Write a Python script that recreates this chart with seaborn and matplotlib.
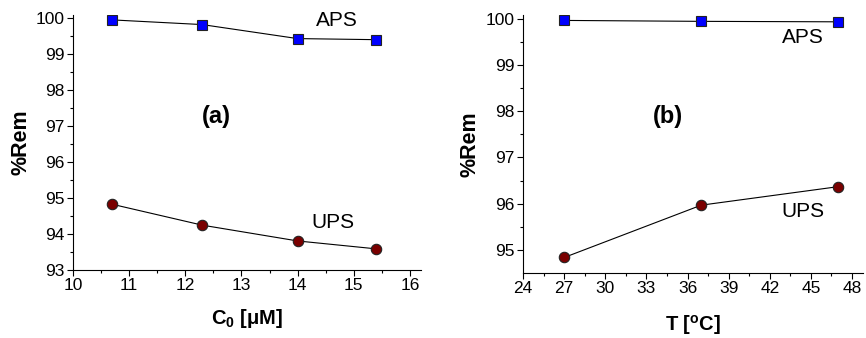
import matplotlib
matplotlib.use("Agg")
import matplotlib.pyplot as plt
import seaborn as sns
import pandas as pd
from matplotlib.ticker import MultipleLocator

# ---- data ----
conc = [10.7, 12.3, 14.0, 15.4]
aps_conc = [99.96, 99.83, 99.44, 99.41]
ups_conc = [94.83, 94.25, 93.81, 93.59]

temp = [27, 37, 47]
aps_temp = [99.96, 99.94, 99.93]
ups_temp = [94.84, 95.97, 96.37]

series_names = ["APS", "UPS"]

sns.set_style("ticks")
plt.rcParams["font.family"] = ["Liberation Sans", "DejaVu Sans"]
plt.rcParams["mathtext.fontset"] = "custom"
plt.rcParams["mathtext.rm"] = "Liberation Sans"
plt.rcParams["mathtext.bf"] = "Liberation Sans:bold"
for k in ["text.color", "axes.labelcolor", "xtick.color", "ytick.color", "axes.edgecolor"]:
    plt.rcParams[k] = "black"

fig = plt.figure(figsize=(8.66, 3.38), dpi=100)
ax1 = fig.add_axes([0.0843, 0.201, 0.402, 0.755])
ax2 = fig.add_axes([0.604, 0.193, 0.3925, 0.763])

df_a = pd.DataFrame({"x": conc * 2, "y": aps_conc + ups_conc,
                     "s": [series_names[0]] * len(conc) + [series_names[1]] * len(conc)})
df_b = pd.DataFrame({"x": temp * 2, "y": aps_temp + ups_temp,
                     "s": [series_names[0]] * len(temp) + [series_names[1]] * len(temp)})

def draw(ax, df):
    a = df[df.s == "APS"]
    u = df[df.s == "UPS"]
    sns.lineplot(data=a, x="x", y="y", ax=ax, color="black", lw=0.8,
                 marker="s", markersize=6.5, markerfacecolor="#0000ff",
                 markeredgecolor="#222222", markeredgewidth=0.8)
    sns.lineplot(data=u, x="x", y="y", ax=ax, color="black", lw=0.8,
                 marker="o", markersize=7.5, markerfacecolor="#7a0000",
                 markeredgecolor="#222222", markeredgewidth=0.8)

draw(ax1, df_a)
draw(ax2, df_b)

for ax in (ax1, ax2):
    sns.despine(ax=ax)
    ax.tick_params(which="major", direction="out", length=4, width=0.8, labelsize=12.5, pad=2)
    ax.tick_params(which="minor", direction="out", length=2.5, width=0.8)

ax1.set_ylabel("%Rem", fontsize=15.5, fontweight="bold", labelpad=3)
ax2.set_ylabel("%Rem", fontsize=15.5, fontweight="bold", labelpad=4)

ax1.set_xlim(10, 16.2)
ax1.set_ylim(93, 100.1)
ax1.xaxis.set_major_locator(MultipleLocator(1))
ax1.xaxis.set_minor_locator(MultipleLocator(0.5))
ax1.yaxis.set_major_locator(MultipleLocator(1))
ax1.yaxis.set_minor_locator(MultipleLocator(0.5))
ax1.set_xlabel(r"$\mathbf{C_0}$ [$\mathbf{\mu}$M]", fontsize=14.5, fontweight="bold", labelpad=10)
ax1.text(14.7, 99.95, "APS", fontsize=15, ha="center", va="center")
ax1.text(14.63, 94.32, "UPS", fontsize=15, ha="center", va="center")
ax1.text(12.56, 97.27, "(a)", fontsize=17, fontweight="bold", ha="center", va="center")

ax2.set_xlim(24, 48.8)
ax2.set_ylim(94.51, 100.08)
ax2.xaxis.set_major_locator(MultipleLocator(3))
ax2.xaxis.set_minor_locator(MultipleLocator(1.5))
ax2.yaxis.set_major_locator(MultipleLocator(1))
ax2.yaxis.set_minor_locator(MultipleLocator(0.5))
ax2.set_xlabel(r"T [$\mathbf{^o}$C]", fontsize=14.5, fontweight="bold", labelpad=12)
ax2.text(44.4, 99.6, "APS", fontsize=15, ha="center", va="center")
ax2.text(44.4, 95.84, "UPS", fontsize=15, ha="center", va="center")
ax2.text(34.57, 97.88, "(b)", fontsize=17, fontweight="bold", ha="center", va="center")

fig.savefig("out.png", dpi=100)
